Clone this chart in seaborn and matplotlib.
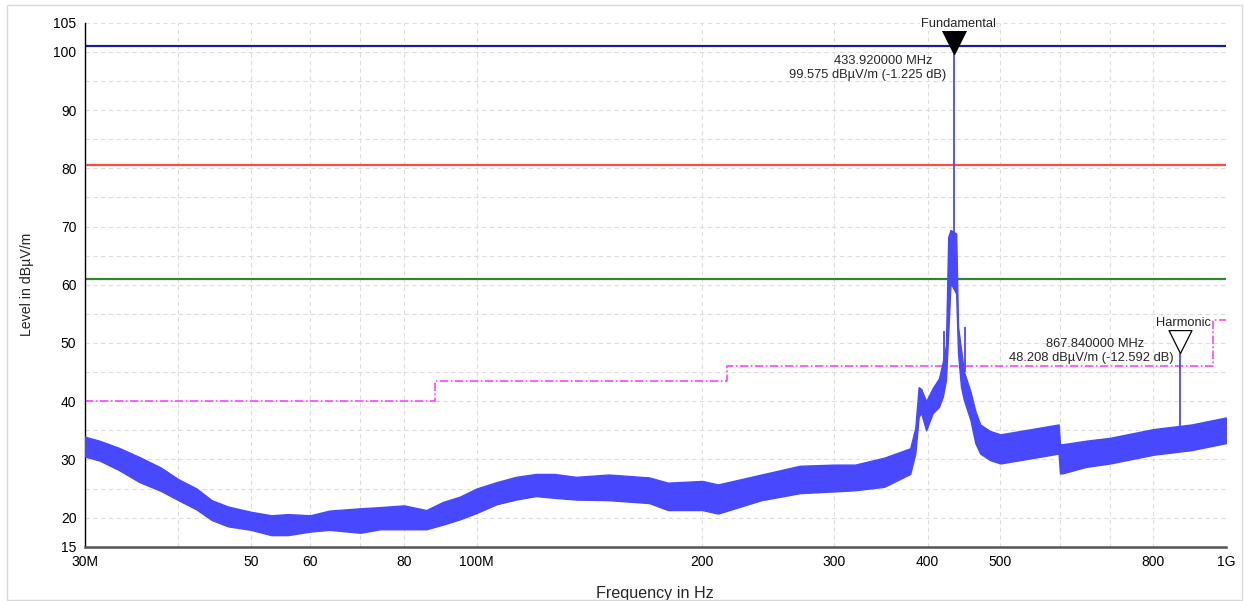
import numpy as np
import pandas as pd
import seaborn as sns
import matplotlib.pyplot as plt
from matplotlib.patches import Rectangle

# spectrum envelope (MHz, dBuV/m)
freq = [30, 31.4, 33.3, 35.5, 37.9, 40, 42.3, 44.3, 46.6, 50, 53.2, 56, 60, 63.6,
        70, 74.3, 80, 85.7, 90.2, 95, 100, 106.4, 112.9, 120, 127, 135.8, 150, 170,
        180, 200, 210, 240, 270, 300, 320, 350, 379, 385, 389, 392, 398, 406, 414,
        419, 423, 426, 429, 436.5, 439, 443, 447, 456, 463, 470, 484, 500, 550, 598,
        600.5, 605, 650, 700, 800, 900, 1000]
lower = [30.5, 29.8, 28.2, 26.1, 24.6, 23, 21.4, 19.6, 18.5, 17.9, 17.0, 17.0, 17.6, 17.9,
         17.4, 18, 18, 18, 18.8, 19.7, 20.8, 22.3, 23.1, 23.7, 23.4, 23.1, 23, 22.5,
         21.3, 21.3, 20.7, 23, 24.2, 24.5, 24.7, 25.3, 27.5, 31, 37.3, 38, 35, 37.9, 39,
         40.8, 43.6, 51.7, 60.3, 58.5, 48.3, 42.5, 40.2, 36.8, 32.8, 31, 29.9, 29.3, 30.2, 31,
         27.6, 27.6, 28.7, 29.3, 30.8, 31.6, 32.8]
upper = [33.9, 33.2, 32.0, 30.4, 28.6, 26.6, 25.0, 23.0, 21.9, 21.0, 20.4, 20.6, 20.4, 21.2,
         21.6, 21.8, 22.1, 21.3, 22.7, 23.6, 25.0, 26.1, 27.0, 27.5, 27.5, 27.0, 27.4, 26.9,
         26.0, 26.3, 25.7, 27.4, 28.9, 29.1, 29.1, 30.3, 31.9, 35.4, 42.4, 42.1, 40.0, 42.2, 43.9,
         46.8, 49.6, 68.2, 69.4, 68.8, 52.8, 49.0, 45.1, 41.7, 38.3, 36.0, 34.9, 34.3, 35.2, 36.0,
         32.6, 32.6, 33.2, 33.7, 35.2, 36.0, 37.2]

# single spikes above the noise
spike_freq = [420, 448, 433.92, 867.84]
spike_base = [44, 45, 60, 34]
spike_top = [52, 52.8, 99.575, 48.208]

# limits
limit_blue = 101.0
limit_red = 80.6
limit_green = 60.9
step_freq = [30, 88, 216, 960, 1000]
step_level = [40, 43.5, 46, 54, 54]

xticks = [30, 40, 50, 60, 70, 80, 100, 200, 300, 400, 500, 600, 700, 800, 1000]
xlabels = ["30M", "", "50", "60", "", "80", "100M", "200", "300", "400", "500", "", "", "800", "1G"]
yticks = list(range(15, 106, 5))
ylabels = [str(v) if (v % 10 == 0 or v in (15, 105)) else "" for v in yticks]

sns.set_style("white")
plt.rcParams["font.family"] = ["Liberation Sans", "DejaVu Sans"]

fig = plt.figure(figsize=(12.44, 6.01), dpi=100)
ax = fig.add_axes([0.0681, 0.0903, 0.9174, 0.8719])

trace = "#4848ff"
ax.fill_between(freq, lower, upper, color=trace, lw=1.0, zorder=3)
ax.vlines(spike_freq, spike_base, spike_top, color=trace, lw=1.3, zorder=3)

ax.axhline(limit_blue, color="#1c1c9c", lw=1.6, zorder=2)
ax.axhline(limit_red, color="#ff4a4a", lw=1.6, zorder=2)
ax.axhline(limit_green, color="#2a8a2a", lw=1.6, zorder=2)

steps = pd.DataFrame({"f": step_freq, "level": step_level})
sns.lineplot(data=steps, x="f", y="level", ax=ax, color="#ff44ff", lw=1.2,
             drawstyle="steps-post", linestyle=(0, (5, 1.5, 1, 1.5)), zorder=2)

ax.set_xscale("log")
ax.set_xlim(30, 1000)
ax.set_ylim(15, 105)
ax.set_xticks(xticks)
ax.set_xticklabels(xlabels)
ax.xaxis.set_minor_locator(plt.NullLocator())
ax.set_yticks(yticks)
ax.set_yticklabels(ylabels)
ax.tick_params(direction="inout", length=6, width=1, labelsize=10, colors="black", pad=3)
ax.grid(True, color="#dedede", lw=0.8, ls=(0, (4, 3)))
for s in ["top", "right"]:
    ax.spines[s].set_visible(False)
ax.spines["left"].set_color("black")
ax.spines["left"].set_linewidth(1)
ax.spines["bottom"].set_color("#555555")
ax.spines["bottom"].set_linewidth(1.8)

ax.set_xlabel("Frequency in Hz", fontsize=11.6, labelpad=12)
ax.set_ylabel("Level in dBµV/m", fontsize=10.2, labelpad=14)

# markers with tip on the measured point
tri = [(0, 0), (-0.5, 1), (0.5, 1), (0, 0)]
ax.plot([433.92], [99.575], marker=tri, ms=34, color="black", zorder=5, clip_on=False)
ax.plot([867.84], [48.208], marker=tri, ms=33, mfc="white", mec="black", mew=0.9,
        zorder=5, clip_on=False)

txt = dict(textcoords="offset pixels", fontsize=9.3, zorder=6)
ax.annotate("Fundamental", (433.92, 99.575), xytext=(4, 30), ha="center", va="center",
            bbox=dict(fc="white", ec="none", pad=0.5), annotation_clip=False, **txt)
ax.annotate("433.920000 MHz", (433.92, 99.575), xytext=(-22, -7), ha="right", va="center", **txt)
ax.annotate("99.575 dBµV/m (-1.225 dB)", (433.92, 99.575), xytext=(-8, -21), ha="right",
            va="center", **txt)
ax.annotate("Harmonic", (867.84, 48.208), xytext=(4, 30), ha="center", va="center",
            bbox=dict(fc="white", ec="none", pad=0.5), **txt)
ax.annotate("867.840000 MHz", (867.84, 48.208), xytext=(-36, 9), ha="right", va="center", **txt)
ax.annotate("48.208 dBµV/m (-12.592 dB)", (867.84, 48.208), xytext=(-6, -5), ha="right",
            va="center", **txt)

fig.add_artist(Rectangle((7 / 1244, 1 / 601), 1235 / 1244, 595 / 601, transform=fig.transFigure,
                         fill=False, ec="#d8d8d8", lw=1))

fig.savefig("out.png", dpi=100)
